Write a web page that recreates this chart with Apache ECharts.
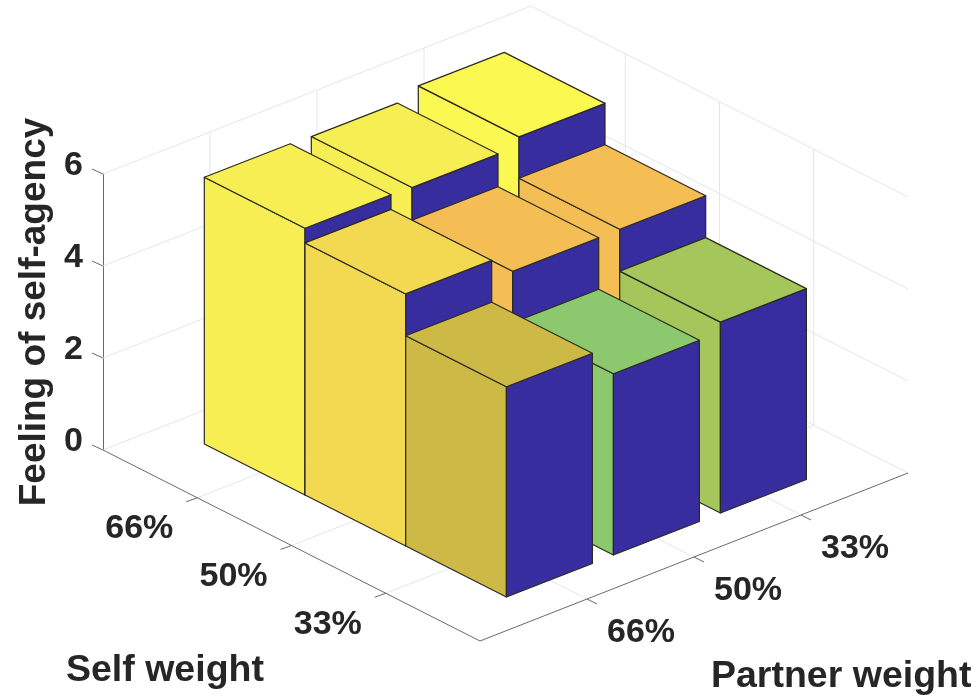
<!DOCTYPE html>
<html>
<head>
<meta charset="utf-8">
<style>html,body{margin:0;padding:0;background:#fff}#c{width:978px;height:699px}</style>
<script src="https://cdn.jsdelivr.net/npm/echarts@6/dist/echarts.min.js"></script>
</head>
<body>
<div id="c"></div>
<script>
// ---- data ----
const selfWeights = ['66%', '50%', '33%'];
const partnerWeights = ['66%', '50%', '33%'];
const agencySelf66 = [5.80, 5.77, 5.96];
const agencySelf50 = [5.48, 5.06, 5.06];
const agencySelf33 = [4.57, 3.94, 4.15];
const zTicks = [0, 2, 4, 6];
const zAxisName = 'Feeling of self-agency';
const selfAxisName = 'Self weight';
const partnerAxisName = 'Partner weight';
// ---- colours ----
const faceSelf66 = ['#f6ee52', '#f6ee52', '#fbf851'];
const faceSelf50 = ['#f3d952', '#f5be55', '#f5be55'];
const faceSelf33 = ['#cdb946', '#8cc96e', '#a5c65b'];
const sideBlue = '#382d9f';
const textColor = '#262626';
const fontFamily = '"Liberation Sans", Arial, sans-serif';

const agency = [agencySelf66, agencySelf50, agencySelf33];
const faces = [faceSelf66, faceSelf50, faceSelf33];

// ---- oblique projection of the floor, in pixels per axis unit ----
const floorSelf = [94.25, 47.75];
const floorPartner = [107, -42];
const barSelfStep = [100.7, 51];
const barPartnerStep = [107, -42];
const barWidthVec = [86, -33.5];
const barOrigin = [202, 45]; // front foot of first bar relative to the floor's left corner

function project(api, ox, oy, z) {
  const p = api.coord([ox, z]);
  return [p[0], p[1] + oy];
}
function floorPt(api, a, b, z) {
  return project(api, a * floorSelf[0] + b * floorPartner[0], a * floorSelf[1] + b * floorPartner[1], z);
}
function seg(p, q, color, w) {
  return {type: 'line', shape: {x1: p[0], y1: p[1], x2: q[0], y2: q[1]},
    style: {stroke: color, lineWidth: w || 1, fill: null}, silent: true};
}

// walls and floor grid
function renderWalls(params, api) {
  const kids = [];
  const light = '#e6e6e6';
  zTicks.forEach(z => {
    kids.push(seg(floorPt(api, 0, 0, z), floorPt(api, 0, 4, z), light));
    kids.push(seg(floorPt(api, 0, 4, z), floorPt(api, 4, 4, z), light));
  });
  [1, 2, 3].forEach(k => {
    kids.push(seg(floorPt(api, 0, k, 0), floorPt(api, 0, k, 6), light));
    kids.push(seg(floorPt(api, k, 4, 0), floorPt(api, k, 4, 6), light));
    kids.push(seg(floorPt(api, k, 0, 0), floorPt(api, k, 4, 0), light));
    kids.push(seg(floorPt(api, 0, k, 0), floorPt(api, 4, k, 0), light));
  });
  return {type: 'group', children: kids};
}

// axis lines, slanted ticks and tick labels
function renderAxes(params, api) {
  const kids = [];
  const dark = '#6a6a6a';
  kids.push(seg(floorPt(api, 0, 0, 0), floorPt(api, 4, 0, 0), dark));
  kids.push(seg(floorPt(api, 4, 0, 0), floorPt(api, 4, 4, 0), dark));
  zTicks.forEach(z => {
    const p = floorPt(api, 0, 0, z);
    kids.push(seg(p, [p[0] - 11, p[1] - 5], dark));
  });
  const label = (t, x, y) => ({type: 'text', silent: true, style: {
    text: t, x: x, y: y, align: 'center', verticalAlign: 'middle',
    fill: textColor, font: 'bold 34px ' + fontFamily}});
  selfWeights.forEach((t, i) => {
    const p = floorPt(api, i + 1, 0, 0);
    kids.push(seg(p, [p[0] - 11, p[1] + 4], dark));
    kids.push(label(t, p[0] - 58, p[1] + 31));
  });
  partnerWeights.forEach((t, i) => {
    const p = floorPt(api, 4, i + 1, 0);
    kids.push(seg(p, [p[0] + 10, p[1] + 5], dark));
    kids.push(label(t, p[0] + 54, p[1] + 34));
  });
  return {type: 'group', children: kids};
}

// bars
const barRows = [];
selfWeights.forEach((s, i) => {
  for (let j = partnerWeights.length - 1; j >= 0; j--) {
    barRows.push([i, j, agency[i][j]]);
  }
});

function renderBar(params, api) {
  const i = api.value(0), j = api.value(1), h = api.value(2);
  const ox = barOrigin[0] + i * barSelfStep[0] + j * barPartnerStep[0];
  const oy = barOrigin[1] + i * barSelfStep[1] + j * barPartnerStep[1];
  const pt = (dx, dy, z) => project(api, ox + dx, oy + dy, z);
  const sx = -barSelfStep[0], sy = -barSelfStep[1], wx = barWidthVec[0], wy = barWidthVec[1];
  const color = faces[i][j];
  const poly = (points, fill) => ({type: 'polygon', shape: {points: points},
    style: {fill: fill, stroke: '#2a2a22', lineWidth: 1.2, lineJoin: 'round'}});
  return {type: 'group', children: [
    poly([pt(0, 0, 0), pt(sx, sy, 0), pt(sx, sy, h), pt(0, 0, h)], color),
    poly([pt(0, 0, 0), pt(wx, wy, 0), pt(wx, wy, h), pt(0, 0, h)], sideBlue),
    poly([pt(0, 0, h), pt(sx, sy, h), pt(sx + wx, sy + wy, h), pt(wx, wy, h)], color)
  ]};
}

const chart = echarts.init(document.getElementById('c'), null, {renderer: 'canvas'});
chart.setOption({
  animation: false,
  backgroundColor: '#fff',
  grid: {left: 103, top: 174, width: 875, height: 276, containLabel: false, outerBoundsMode: 'none'},
  xAxis: {type: 'value', min: 0, max: 875, show: false},
  yAxis: {
    type: 'value', min: 0, max: 6, interval: 2,
    name: zAxisName, nameLocation: 'middle', nameRotate: 90, nameGap: 44,
    nameTextStyle: {color: textColor, fontWeight: 'bold', fontSize: 37, fontFamily: fontFamily},
    axisLine: {show: true, lineStyle: {color: '#6a6a6a', width: 1}},
    axisTick: {show: false},
    splitLine: {show: false},
    axisLabel: {color: textColor, fontWeight: 'bold', fontSize: 34, fontFamily: fontFamily,
      margin: 20, verticalAlign: 'bottom', lineHeight: 16, showMinLabel: true, showMaxLabel: true}
  },
  graphic: [
    {type: 'text', left: 66, top: 652, style: {text: selfAxisName, fill: textColor, font: 'bold 37.5px ' + fontFamily}},
    {type: 'text', left: 711, top: 658, style: {text: partnerAxisName, fill: textColor, font: 'bold 37.5px ' + fontFamily}}
  ],
  series: [
    {type: 'custom', coordinateSystem: 'cartesian2d', clip: false, silent: true, z: 1,
      data: [[0, 0]], renderItem: renderWalls, encode: {x: 0, y: 1}},
    {type: 'custom', coordinateSystem: 'cartesian2d', clip: false, silent: true, z: 2,
      data: barRows, renderItem: renderBar, encode: {y: 2}},
    {type: 'custom', coordinateSystem: 'cartesian2d', clip: false, silent: true, z: 3,
      data: [[0, 0]], renderItem: renderAxes, encode: {x: 0, y: 1}}
  ]
});
</script>
</body>
</html>
